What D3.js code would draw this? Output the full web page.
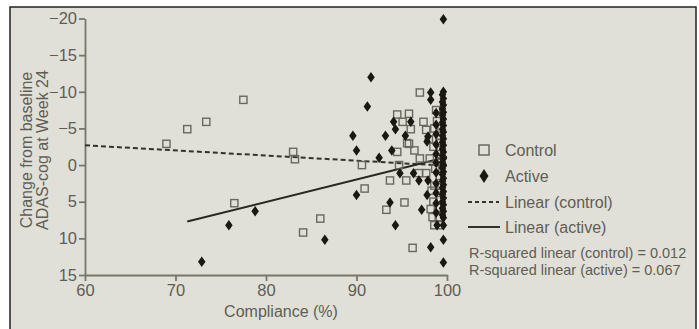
<!DOCTYPE html>
<html>
<head>
<meta charset="utf-8">
<script src="https://cdn.jsdelivr.net/npm/d3@7"></script>
<style>
  body { margin: 0; background: #fff; }
  svg { display: block; font-family: "Liberation Sans", Arial, sans-serif; }
</style>
</head>
<body>
<div id="chart"></div>
<script>
// Control group (open squares): [compliance %, change from baseline]
const controlPoints = [
    [69.0, -2.9], [71.3, -4.9], [73.4, -5.9], [77.5, -8.9], [83.0, -1.8], [83.2, -0.8],
    [76.5, 5.2], [86.0, 7.3], [84.1, 9.2],
    [90.6, 0.0], [90.9, 3.2], [93.3, 6.1], [93.7, 2.1], [94.5, -1.8], [94.5, -6.9],
    [94.7, 0.0], [95.1, -5.9], [95.3, 5.1], [95.5, 2.1], [95.6, -3.0], [95.8, -7.0],
    [95.8, -2.9], [96.0, -4.9], [96.2, 11.3], [96.4, -2.0], [96.9, 1.1], [97.0, -9.9],
    [97.0, -0.9], [97.4, -5.9], [97.7, -4.8], [97.7, 1.1], [98.1, -0.9],
    [98.4, 7.1], [99.1, 7.1], [98.6, 8.2], [99.2, 8.2], [98.6, -5.0], [99.2, -4.0],
    [98.5, -2.5], [99.2, -1.5], [98.7, 0.5], [99.2, 1.5], [98.6, 2.8], [99.2, 3.8],
    [98.5, 5.0], [99.2, 5.8], [98.9, -6.0], [99.3, -3.0], [98.8, -7.5], [99.1, -0.3],
    [98.3, 3.5], [98.2, 6.0], [98.0, -3.5]
];

// Active group (filled diamonds)
const activePoints = [
    [72.9, 13.2], [75.9, 8.2], [78.8, 6.3], [86.5, 10.2],
    [89.6, -4.0], [90.0, -2.0], [90.0, 4.1], [91.2, -8.0], [91.6, -12.0], [92.5, -1.0],
    [93.2, -4.0], [93.7, 5.1], [93.9, -2.0], [94.1, -5.9], [94.3, -4.9], [94.3, 8.2],
    [94.8, 1.1], [95.4, -4.0], [96.0, -5.9], [96.3, 1.1], [96.9, 2.1], [97.2, 6.1],
    [97.8, 4.1], [97.8, -3.2], [97.9, -3.9], [97.9, 2.1], [98.2, -9.9], [98.2, -8.9],
    [98.2, 11.2], [98.8, -7.1],
    [99.6, -19.9], [99.6, -10.0], [99.6, -9.1], [99.6, -8.2], [99.6, -7.2], [99.6, -6.3],
    [99.6, -5.4], [99.6, -4.5], [99.6, -3.6], [99.6, -2.7], [99.6, -1.8], [99.6, -0.9],
    [99.6, 0.0], [99.6, 0.9], [99.6, 1.8], [99.6, 2.7], [99.6, 3.6], [99.6, 4.5],
    [99.6, 5.4], [99.6, 6.3], [99.6, 7.2], [99.6, 8.2], [99.6, 10.2], [99.6, 13.3],
    [99.5, -9.6], [99.5, -8.6], [99.5, -7.7], [99.5, -6.8], [99.5, -5.8], [99.5, -4.9],
    [99.5, -4.0], [99.5, -3.1], [99.5, -2.2], [99.5, -1.3], [99.5, -0.4], [99.5, 0.4],
    [99.5, 1.3], [99.5, 2.2], [99.5, 3.1], [99.5, 4.0], [99.5, 5.0], [99.5, 5.9],
    [99.5, 6.8],
    [98.8, -5.5], [98.8, -4.2], [98.8, -2.8], [98.8, -1.5], [98.8, -0.3], [98.8, 1.0],
    [98.8, 2.5], [98.8, 3.8], [98.8, 5.2], [98.8, 6.5], [98.9, 8.2]
];

// fitted lines, endpoints
const controlFit = [[60, -2.7], [100, 0.1]];
const activeFit = [[71.3, 7.7], [100, -1.1]];

const xTicks = [60, 70, 80, 90, 100];
const yTicks = [-20, -15, -10, -5, 0, 5, 10, 15];

const legendItems = ["Control", "Active", "Linear (control)", "Linear (active)"];
const rSquaredLines = ["R-squared linear (control) = 0.012", "R-squared linear (active) = 0.067"];

const W = 699, H = 329;
const bg = "#e0e0d8";
const axisColor = "#78766a";
const textColor = "#5f5d54";
const ink = "#1b1812";

const svg = d3.select("#chart").append("svg").attr("width", W).attr("height", H);

// panel
svg.append("rect")
    .attr("x", 10).attr("y", 7).attr("width", 686).attr("height", 340)
    .attr("fill", bg).attr("stroke", "#222").attr("stroke-width", 1.5);

const x = d3.scaleLinear().domain([60, 100]).range([85, 447]);
const y = d3.scaleLinear().domain([-20, 15]).range([18.5, 275]);

// axes
const xAxis = svg.append("g")
    .attr("transform", `translate(0,${y(15)})`)
    .call(d3.axisBottom(x).tickValues(xTicks).tickSize(6).tickSizeOuter(0).tickPadding(3));
const yAxis = svg.append("g")
    .attr("transform", `translate(${x(60)},0)`)
    .call(d3.axisLeft(y).tickValues(yTicks).tickSize(6).tickSizeOuter(0).tickPadding(2));

[xAxis, yAxis].forEach((g) => {
    g.select(".domain").attr("stroke", axisColor).attr("stroke-width", 1.8);
    g.selectAll(".tick line").attr("stroke", axisColor).attr("stroke-width", 1.8);
    g.selectAll(".tick text")
        .attr("fill", textColor)
        .style("font-size", "16.5px")
        .style("font-family", "'Liberation Sans', Arial, sans-serif");
});

// axis titles
svg.append("text")
    .attr("x", 281).attr("y", 317)
    .attr("text-anchor", "middle")
    .attr("fill", textColor).style("font-size", "16px")
    .text("Compliance (%)");

const yTitle = svg.append("g").attr("transform", "translate(26,150) rotate(-90)");
yTitle.append("text")
    .attr("text-anchor", "middle").attr("dy", "0.35em")
    .attr("fill", textColor).style("font-size", "16px")
    .text("Change from baseline");
yTitle.append("text")
    .attr("y", 16)
    .attr("text-anchor", "middle").attr("dy", "0.35em")
    .attr("fill", textColor).style("font-size", "16px")
    .text("ADAS-cog at Week 24");

// regression lines
const line = d3.line().x((d) => x(d[0])).y((d) => y(d[1]));
svg.append("path")
    .datum(controlFit)
    .attr("fill", "none").attr("stroke", "#35322b").attr("stroke-width", 2)
    .attr("stroke-dasharray", "5,3")
    .attr("d", line);
svg.append("path")
    .datum(activeFit)
    .attr("fill", "none").attr("stroke", "#2a2720").attr("stroke-width", 1.9)
    .attr("d", line);

// markers
const diamond = (cx, cy, w, h) => `M${cx},${cy - h / 2}L${cx + w / 2},${cy}L${cx},${cy + h / 2}L${cx - w / 2},${cy}Z`;

svg.append("g").selectAll("rect")
    .data(controlPoints)
    .enter()
    .append("rect")
    .attr("x", (d) => x(d[0]) - 3.6)
    .attr("y", (d) => y(d[1]) - 3.6)
    .attr("width", 7.2).attr("height", 7.2)
    .attr("fill", "none")
    .attr("stroke", "#6a685e").attr("stroke-width", 1.4);

svg.append("g").selectAll("path")
    .data(activePoints)
    .enter()
    .append("path")
    .attr("d", (d) => diamond(x(d[0]), y(d[1]), 7.5, 10.5))
    .attr("fill", ink);

// legend
const lg = svg.append("g");
const lx = 484, ly = [150, 176, 202, 227];
lg.append("rect")
    .attr("x", lx - 5).attr("y", ly[0] - 5).attr("width", 10).attr("height", 10)
    .attr("fill", "none").attr("stroke", "#6a685e").attr("stroke-width", 1.5);
lg.append("path").attr("d", diamond(lx, ly[1], 9, 14)).attr("fill", ink);
lg.append("line")
    .attr("x1", 468).attr("x2", 499).attr("y1", ly[2]).attr("y2", ly[2])
    .attr("stroke", "#35322b").attr("stroke-width", 2).attr("stroke-dasharray", "4,3");
lg.append("line")
    .attr("x1", 468).attr("x2", 500).attr("y1", ly[3]).attr("y2", ly[3])
    .attr("stroke", "#35322b").attr("stroke-width", 2);

lg.selectAll("text.item")
    .data(legendItems)
    .enter()
    .append("text")
    .attr("class", "item")
    .attr("x", 505)
    .attr("y", (d, i) => ly[i])
    .attr("dy", "0.35em")
    .attr("fill", textColor).style("font-size", "16px")
    .text((d) => d);

lg.selectAll("text.rsq")
    .data(rSquaredLines)
    .enter()
    .append("text")
    .attr("class", "rsq")
    .attr("x", 469)
    .attr("y", (d, i) => 258 + i * 16.5)
    .attr("fill", textColor).style("font-size", "14.5px")
    .text((d) => d);
</script>
</body>
</html>
